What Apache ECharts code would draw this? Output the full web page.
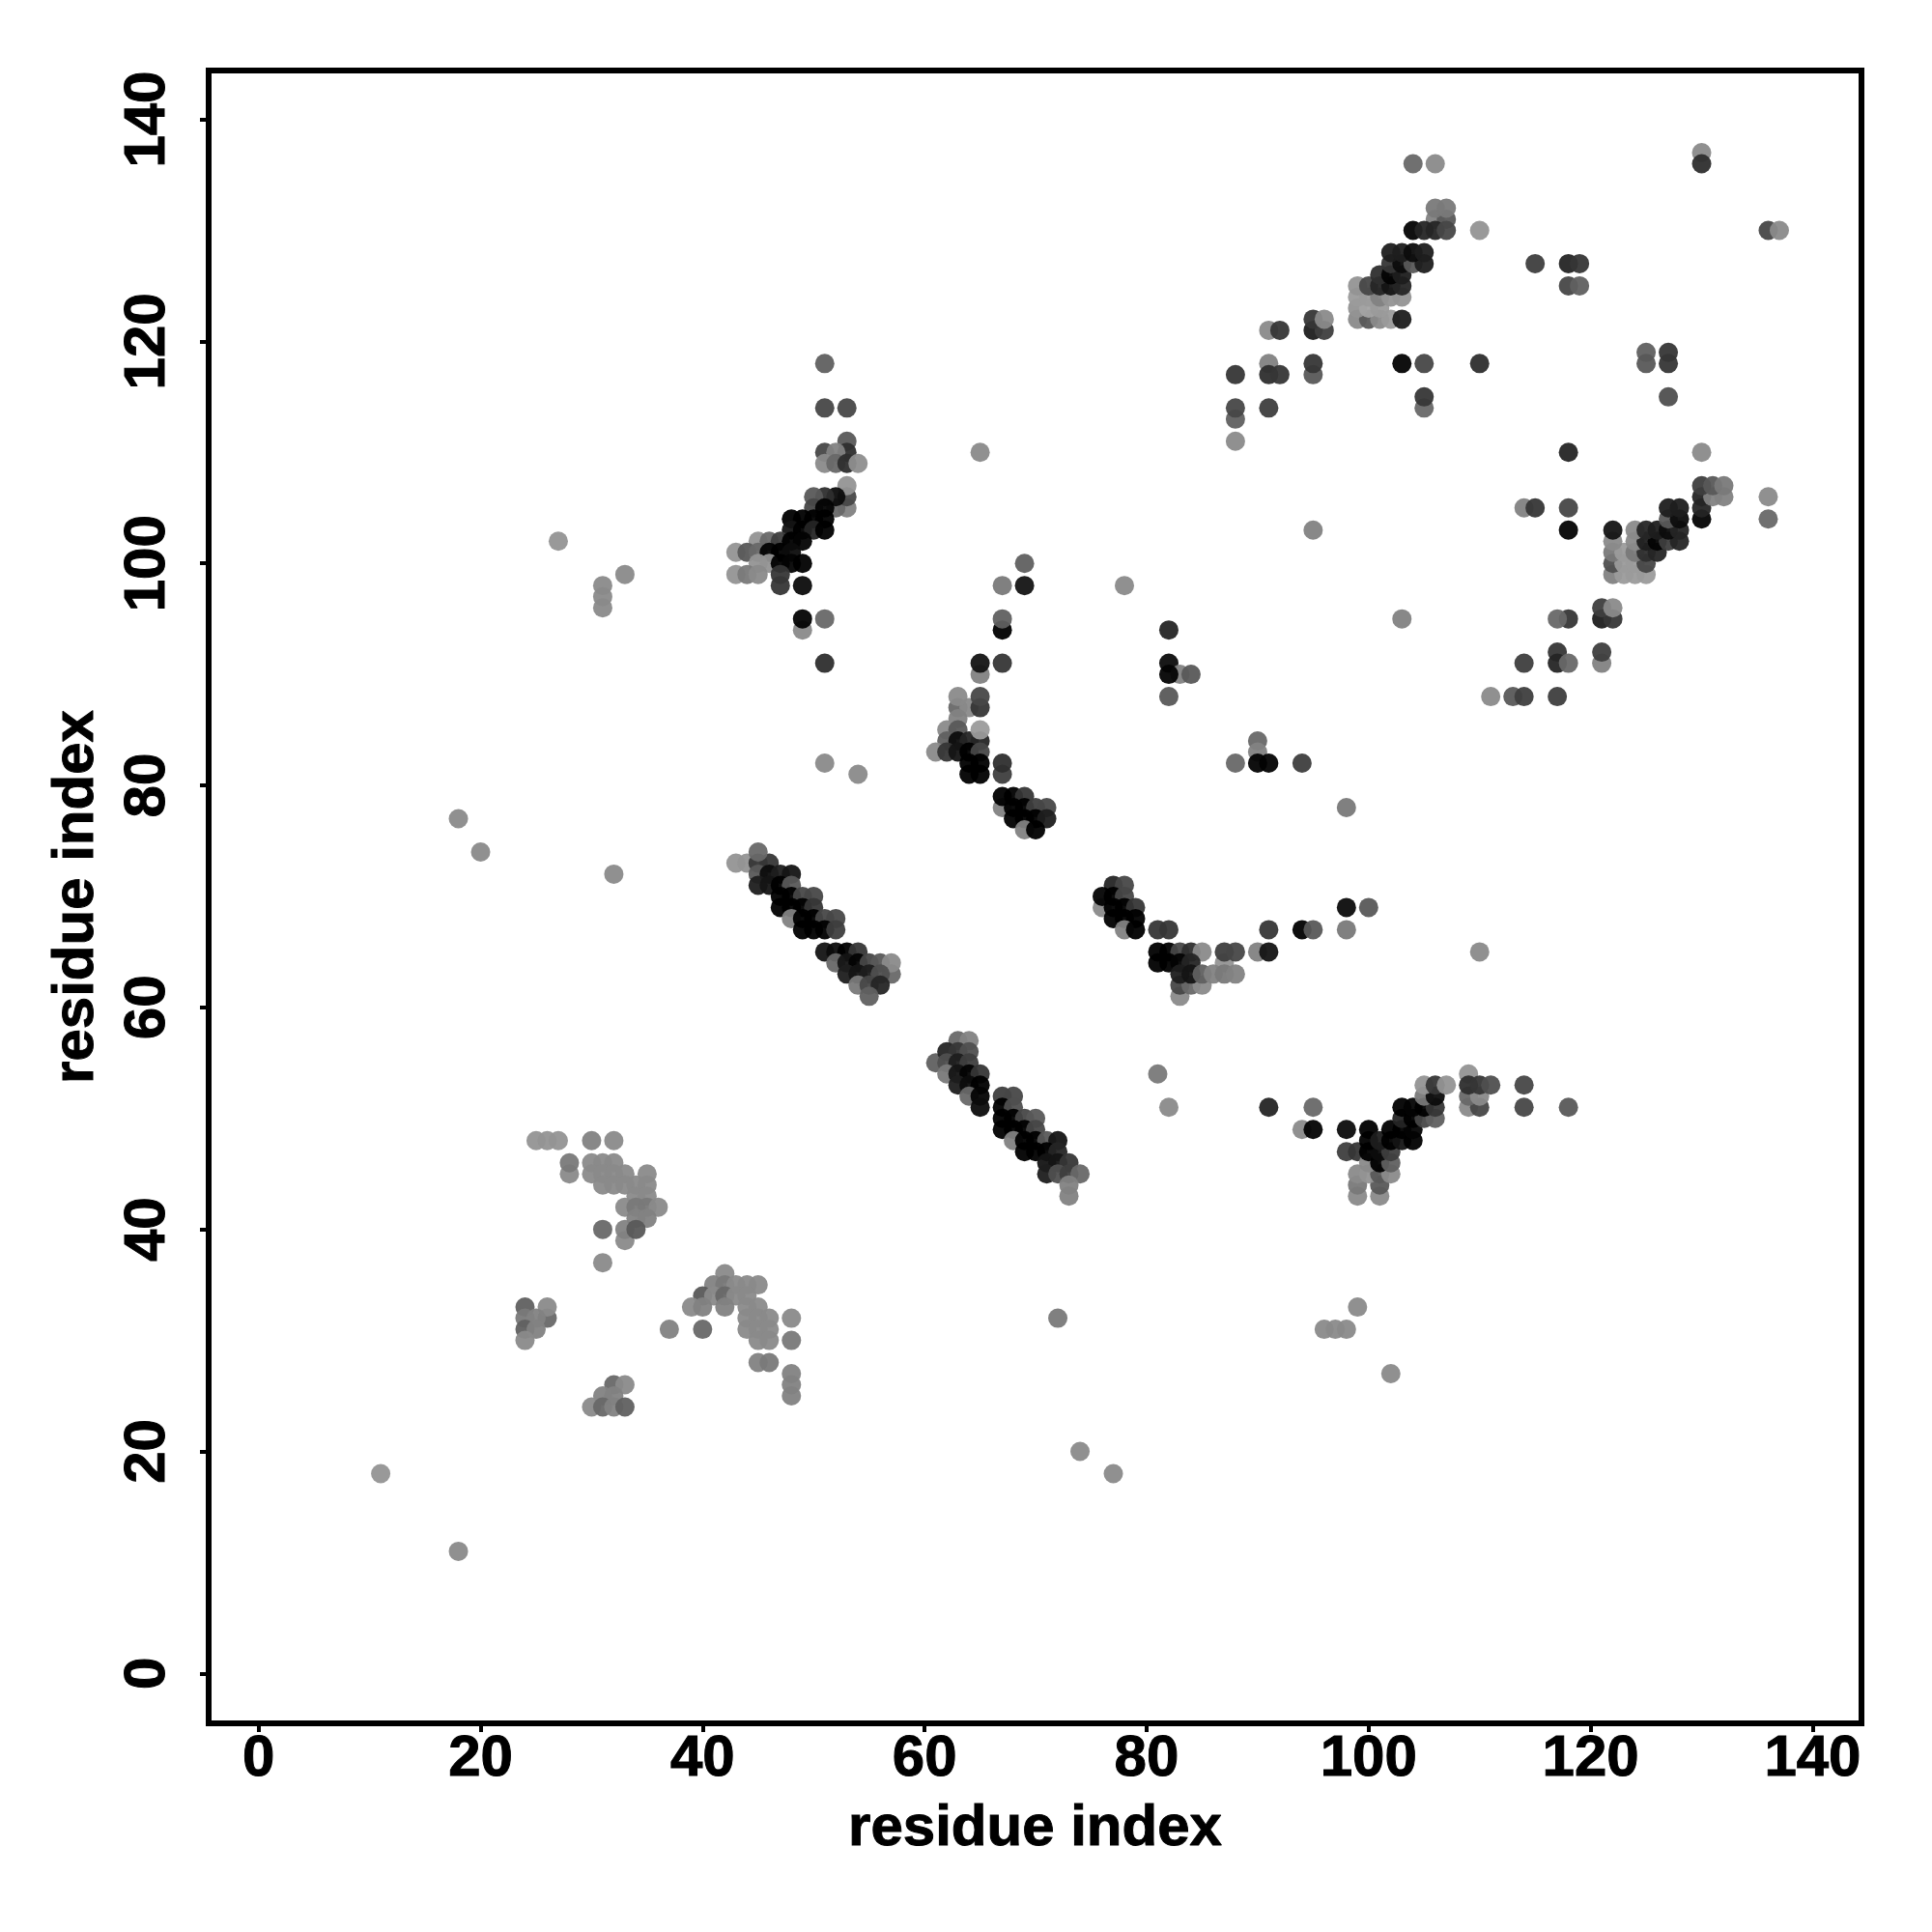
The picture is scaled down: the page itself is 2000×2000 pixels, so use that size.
<!DOCTYPE html>
<html><head><meta charset="utf-8">
<script src="https://cdn.jsdelivr.net/npm/echarts@6/dist/echarts.min.js"></script>
<style>html,body{margin:0;padding:0;background:#fff}#c{width:2000px;height:2000px}</style>
</head><body><div id="c"></div>
<script>
// Each contact: [residue x, residue y, darkness level (lower = stronger)]
const tickValues = [0,20,40,60,80,100,120,140];
const axisTitle = 'residue index';
const isolated = [[11,18,0x90],[18,11,0x88],[18,77,0x88],[20,74,0x88],[32,72,0x88],[27,102,0x90],[31,98,0x88],[31,97,0x88],[31,96,0x88],[33,99,0x88],[51,82,0x88],[54,81,0x88],[65,110,0x88],[78,98,0x88],[95,103,0x80],[103,95,0x80],[98,78,0x78],[110,65,0x88],[81,54,0x78],[82,51,0x88],[72,32,0x78],[74,20,0x88],[77,18,0x88],[102,27,0x88],[99,33,0x88],[96,31,0x88],[97,31,0x88],[98,31,0x88],[37,31,0x80]];
const clusterA = [[51,118,0x68],[51,114,0x50],[53,114,0x50],[53,111,0x60],[51,110,0x50],[53,110,0x38],[52,110,0x80],[51,109,0x88],[52,109,0x70],[53,109,0x38],[54,109,0x8c],[53,105,0x80],[52,105,0x70],[53,106,0x50],[53,107,0x90],[52,106,0x18],[51,106,0x38],[50,106,0x60],[50,105,0x50],[51,105,0x10],[48,104,0x08],[49,104,0x08],[50,104,0x08],[51,104,0x08],[48,103,0x20],[49,103,0x08],[50,103,0x30],[51,103,0x08],[45,102,0x90],[46,102,0x70],[47,102,0x48],[48,102,0x08],[49,102,0x10],[43,101,0x90],[44,101,0x60],[45,101,0x70],[46,101,0x10],[47,101,0x08],[48,101,0x18],[45,100,0x90],[46,100,0x90],[47,100,0x08],[48,100,0x10],[49,100,0x08],[43,99,0x90],[44,99,0x78],[45,99,0x88],[47,99,0x40],[47,98,0x40],[49,98,0x18],[49,94,0x88],[49,95,0x10],[51,95,0x70],[51,91,0x38]];
const clusterB = [[43,73,0x90],[44,73,0x90],[45,73,0x40],[46,73,0x40],[45,74,0x70],[45,72,0x60],[46,72,0x18],[47,72,0x28],[48,72,0x20],[45,71,0x28],[46,71,0x20],[47,71,0x04],[48,71,0x60],[47,70,0x08],[48,70,0x08],[49,70,0x50],[50,70,0x50],[47,69,0x08],[48,69,0x08],[49,69,0x08],[50,69,0x40],[48,68,0x80],[49,68,0x08],[50,68,0x08],[51,68,0x50],[52,68,0x50],[49,67,0x05],[50,67,0x08],[51,67,0x08],[52,67,0x48],[51,65,0x20],[52,65,0x18],[53,65,0x08],[54,65,0x40],[52,64,0x70],[53,64,0x20],[54,64,0x10],[55,64,0x50],[56,64,0x60],[57,63,0x70],[57,64,0x88],[53,63,0x28],[54,63,0x20],[55,63,0x28],[56,63,0x58],[54,62,0x78],[55,62,0x50],[56,62,0x30],[55,61,0x68]];
const clusterC = [[61,55,0x68],[63,57,0x70],[64,57,0x80],[62,56,0x30],[63,56,0x40],[64,56,0x58],[62,55,0x58],[63,55,0x28],[64,55,0x48],[62,54,0x78],[63,54,0x20],[64,54,0x10],[65,54,0x40],[63,53,0x28],[64,53,0x18],[65,53,0x08],[64,52,0x70],[65,52,0x10],[65,51,0x18],[67,52,0x48],[68,52,0x50],[67,51,0x04],[68,51,0x58],[67,50,0x08],[68,50,0x08],[69,50,0x50],[70,50,0x60],[67,49,0x08],[68,49,0x08],[69,49,0x08],[70,49,0x50],[68,48,0x80],[69,48,0x05],[70,48,0x05],[71,48,0x60],[72,48,0x20],[69,47,0x05],[70,47,0x08],[71,47,0x05],[72,47,0x30],[71,46,0x20],[72,46,0x20],[73,46,0x40],[71,45,0x28],[72,45,0x58],[73,45,0x48],[74,45,0x70],[73,44,0x80],[73,43,0x80]];
const clusterD = [[69,100,0x68],[67,98,0x78],[69,98,0x20],[67,94,0x08],[67,95,0x68],[65,90,0x80],[65,91,0x20],[67,91,0x40],[63,87,0x70],[64,87,0x88],[65,87,0x40],[63,88,0x88],[65,88,0x50],[63,86,0x80],[62,85,0x88],[63,85,0x60],[62,84,0x68],[63,84,0x18],[64,84,0x30],[65,84,0x30],[65,85,0x98],[61,83,0x88],[62,83,0x40],[63,83,0x20],[64,83,0x08],[65,83,0x50],[64,82,0x05],[65,82,0x05],[64,81,0x05],[65,81,0x05],[67,81,0x48],[67,82,0x38],[67,78,0x80],[67,79,0x08],[68,79,0x05],[69,79,0x40],[68,78,0x05],[69,78,0x05],[70,78,0x48],[71,78,0x50],[68,77,0x05],[69,77,0x05],[70,77,0x05],[71,77,0x28],[69,76,0x80],[70,76,0x08]];
const clusterE = [[77,71,0x30],[78,71,0x50],[76,69,0x88],[76,70,0x10],[77,70,0x05],[78,70,0x50],[77,69,0x05],[78,69,0x08],[79,69,0x40],[77,68,0x05],[78,68,0x05],[79,68,0x08],[78,67,0x80],[79,67,0x05],[81,67,0x40],[82,67,0x40],[91,67,0x40],[94,67,0x08],[95,67,0x60],[98,67,0x78],[98,69,0x18],[100,69,0x60],[81,65,0x05],[82,65,0x05],[83,65,0x50],[84,65,0x38],[85,65,0x88],[87,64,0x90],[87,65,0x48],[88,65,0x50],[90,65,0x80],[91,65,0x20],[81,64,0x05],[82,64,0x05],[83,64,0x10],[84,64,0x30],[83,61,0x88],[83,62,0x50],[84,62,0x70],[85,62,0x88],[83,63,0x28],[84,63,0x20],[85,63,0x68],[86,63,0x80],[87,63,0x78],[88,63,0x80]];
const clusterF = [[95,51,0x70],[91,51,0x30],[94,49,0x88],[95,49,0x10],[98,49,0x18],[100,49,0x08],[98,47,0x48],[99,47,0x40],[99,43,0x88],[101,43,0x88],[99,44,0x78],[101,44,0x60],[99,45,0x88],[100,45,0x90],[101,45,0x60],[102,45,0x88],[100,46,0x88],[101,46,0x08],[102,46,0x68],[100,47,0x08],[101,47,0x18],[102,47,0x48],[100,48,0x08],[101,48,0x28],[102,48,0x08],[103,48,0x20],[104,48,0x08],[102,49,0x08],[103,49,0x08],[104,49,0x10],[103,50,0x30],[104,50,0x08],[105,50,0x50],[106,50,0x68],[103,51,0x08],[104,51,0x10],[105,51,0x08],[106,51,0x40],[105,52,0x78],[106,52,0x18],[105,53,0x90],[106,53,0x40],[107,53,0x90],[109,51,0x88],[110,51,0x50],[109,52,0x70],[110,52,0x88],[109,54,0x90],[109,53,0x38],[110,53,0x40],[111,53,0x58],[114,53,0x50],[114,51,0x50],[118,51,0x60]];
const clusterG = [[104,136,0x70],[106,136,0x88],[106,131,0x80],[107,131,0x60],[106,132,0x78],[107,132,0x78],[104,130,0x10],[105,130,0x30],[106,130,0x30],[107,130,0x50],[110,130,0x90],[99,122,0x88],[100,122,0x60],[101,122,0x88],[102,122,0x98],[103,122,0x28],[99,123,0x90],[100,123,0xa0],[101,123,0x98],[99,124,0x98],[100,124,0x98],[101,124,0x80],[102,124,0x90],[103,124,0x90],[99,125,0x90],[100,125,0x50],[101,125,0x30],[102,125,0x20],[103,125,0x30],[101,126,0x38],[102,126,0x10],[103,126,0x28],[102,127,0x40],[103,127,0x18],[104,127,0x60],[105,127,0x28],[102,128,0x28],[103,128,0x28],[104,128,0x18],[105,128,0x28],[95,121,0x28],[96,121,0x48],[95,122,0x40],[96,122,0x88],[95,117,0x60],[95,118,0x40],[103,118,0x10],[105,118,0x50],[110,118,0x38],[105,114,0x70],[105,115,0x40]];
const clusterH = [[91,121,0x88],[92,121,0x40],[91,118,0x80],[91,117,0x38],[92,117,0x40],[91,114,0x48],[88,117,0x40],[88,113,0x68],[88,114,0x50],[88,111,0x88]];
const clusterI = [[118,105,0x50],[118,103,0x10],[118,110,0x30],[130,110,0x88],[122,99,0x80],[123,99,0x98],[124,99,0x98],[125,99,0x98],[122,100,0x58],[123,100,0x98],[124,100,0x98],[125,100,0x50],[122,101,0x78],[123,101,0x98],[124,101,0x78],[125,101,0x38],[126,101,0x30],[122,102,0x88],[124,102,0x88],[125,102,0x28],[126,102,0x10],[127,102,0x48],[128,102,0x30],[122,103,0x20],[124,103,0x88],[125,103,0x30],[126,103,0x28],[127,103,0x18],[128,103,0x30],[127,104,0x60],[128,104,0x18],[127,105,0x28],[128,105,0x28],[130,104,0x10],[130,105,0x30],[130,106,0x30],[131,106,0x80],[132,106,0x80],[130,107,0x48],[131,107,0x60],[132,107,0x78],[136,106,0x88],[136,104,0x70],[121,95,0x28],[122,95,0x40],[121,96,0x48],[122,96,0x88],[118,95,0x40],[117,95,0x70],[121,91,0x80],[121,92,0x48],[117,92,0x40],[117,91,0x30],[118,91,0x70],[114,91,0x48],[111,88,0x88],[113,88,0x60],[114,88,0x48],[117,88,0x48],[114,105,0x80],[115,105,0x40]];
const clusterJ = [[115,127,0x48],[118,127,0x30],[119,127,0x40],[118,125,0x50],[119,125,0x68],[125,119,0x68],[125,118,0x60],[127,119,0x40],[127,118,0x40],[127,115,0x58],[130,137,0x88],[130,136,0x38],[136,130,0x50],[137,130,0x88]];
const clusterK = [[82,94,0x30],[82,91,0x18],[83,90,0x80],[84,90,0x60],[82,90,0x10],[82,88,0x60],[90,84,0x70],[90,83,0x80],[88,82,0x70],[90,82,0x10],[91,82,0x10],[94,82,0x48]];
const clusterL = [[25,48,0x90],[26,48,0x90],[27,48,0x90],[30,48,0x80],[32,48,0x88],[28,45,0x88],[28,46,0x78],[30,46,0x88],[31,46,0x88],[32,46,0x88],[30,45,0x88],[31,45,0x88],[32,45,0x88],[33,45,0x88],[35,45,0x88],[31,44,0x88],[32,44,0x88],[33,44,0x88],[34,44,0x88],[35,44,0x88],[34,43,0x88],[35,43,0x88],[33,42,0x88],[34,42,0x78],[35,42,0x78],[36,42,0x88],[34,41,0x80],[35,41,0x80],[31,40,0x70],[33,39,0x88],[33,40,0x80],[34,40,0x60],[31,37,0x88]];
const clusterM = [[42,36,0x88],[41,35,0x80],[42,35,0x78],[43,35,0x88],[44,35,0x88],[45,35,0x88],[40,34,0x60],[41,34,0x88],[42,34,0x70],[43,34,0x88],[44,34,0x88],[39,33,0x88],[40,33,0x80],[42,33,0x80],[44,33,0x88],[45,33,0x88],[44,32,0x88],[45,32,0x88],[46,32,0x88],[48,32,0x88],[40,31,0x70],[44,31,0x88],[45,31,0x88],[46,31,0x88],[45,30,0x88],[46,30,0x88],[48,30,0x78],[45,28,0x80],[46,28,0x78],[48,27,0x80],[48,26,0x80],[48,25,0x80]];
const clusterN = [[24,33,0x68],[26,32,0x70],[26,33,0x88],[24,32,0x78],[25,32,0x80],[24,31,0x68],[25,31,0x80],[24,30,0x88],[32,26,0x70],[33,26,0x88],[31,25,0x80],[32,25,0x80],[30,24,0x88],[31,24,0x70],[32,24,0x80],[33,24,0x68]];

const contacts = [].concat(isolated,clusterA,clusterB,clusterC,clusterD,clusterE,clusterF,clusterG,clusterH,clusterI,clusterJ,clusterK,clusterL,clusterM,clusterN);
const FONT = '"Liberation Sans", Arial, sans-serif';
const ALPHA = 0.95;
function shadeColor(level){
  const lifted = level >= 0x78 ? level + 8 : level;
  const c = Math.max(0, Math.round((lifted - 255*(1-ALPHA)) / ALPHA));
  return 'rgb('+c+','+c+','+c+')';
}
const textStyle = {fontFamily:FONT, fontWeight:'bold', fontSize:60, color:'#000', textBorderColor:'#000', textBorderWidth:1};
function axis(extra){
  return Object.assign({
    type:'value', min:-4.5, max:144.4, splitLine:{show:false},
    axisLine:{show:false, onZero:false},
    axisTick:{show:true, length:9, customValues:tickValues, lineStyle:{color:'#000', width:4}},
    name:axisTitle, nameLocation:'middle',
    nameTextStyle:textStyle
  }, extra);
}
const chart = echarts.init(document.getElementById('c'), null, {renderer:'canvas'});
chart.setOption({
  animation:false,
  backgroundColor:'#fff',
  grid:{left:216, top:73, width:1711, height:1711, show:true, borderColor:'#000', borderWidth:6, backgroundColor:'transparent'},
  xAxis:axis({
    nameGap:79,
    axisLabel:Object.assign({margin:7, customValues:tickValues}, textStyle)
  }),
  yAxis:axis({
    nameGap:107,
    axisLabel:Object.assign({margin:33, rotate:90, customValues:tickValues, align:'center', verticalAlign:'bottom'}, textStyle)
  }),
  series:[{
    type:'scatter', symbol:'circle', symbolSize:20, clip:false, large:false,
    data:contacts, encode:{x:0,y:1},
    itemStyle:{opacity:ALPHA, color:function(p){return shadeColor(p.data[2]);}},
    silent:true
  }]
});
</script></body></html>
